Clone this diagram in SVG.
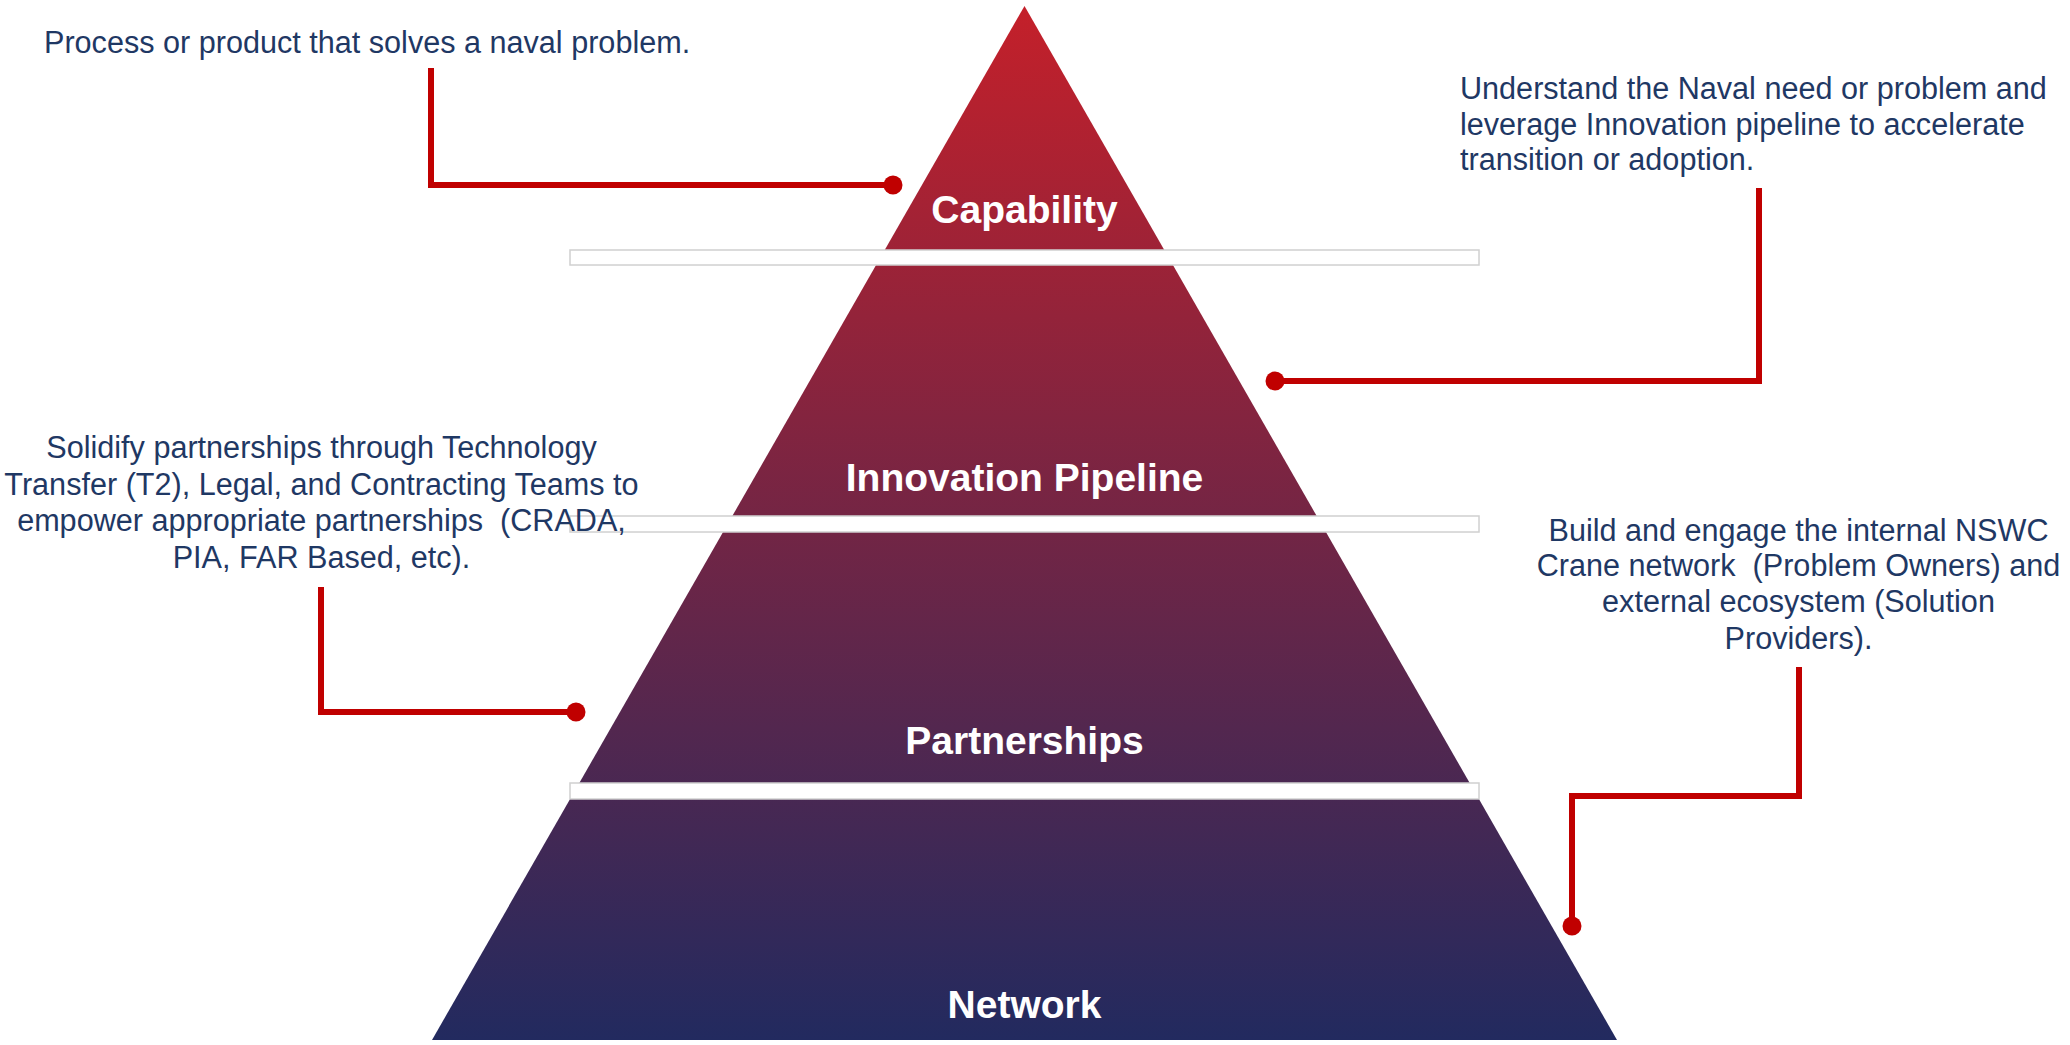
<svg xmlns="http://www.w3.org/2000/svg" width="2070" height="1045" viewBox="0 0 2070 1045">
  <defs>
    <linearGradient id="pyr" gradientUnits="userSpaceOnUse" x1="0" y1="6" x2="0" y2="1040">
      <stop offset="0" stop-color="#c4202a"/>
      <stop offset="1" stop-color="#222a5f"/>
    </linearGradient>
    <style>
      .tier { fill: url(#pyr); }
      .band { fill: #ffffff; stroke: #d0d0d0; stroke-width: 1.5; }
      .lbl { fill: #ffffff; font-family: "Liberation Sans", Arial, sans-serif; font-weight: bold; font-size: 39px; text-anchor: middle; }
      .note { fill: #1f3864; font-family: "Liberation Sans", Arial, sans-serif; font-size: 30.6px; }
      .mid { text-anchor: middle; }
      .conn { fill: none; stroke: #c00000; stroke-width: 6; }
      .dot { fill: #c00000; }
    </style>
  </defs>
  <rect width="2070" height="1045" fill="#ffffff"/>

  <g id="tier-capability">
    <polygon class="tier" points="1024.5,6 1164.3,250 884.7,250"/>
    <text class="lbl" x="1024.5" y="223">Capability</text>
  </g>
  <g id="tier-innovation-pipeline">
    <polygon class="tier" points="876.1,265 1172.9,265 1316.7,516 732.3,516"/>
    <text class="lbl" x="1024.5" y="491">Innovation Pipeline</text>
  </g>
  <g id="tier-partnerships">
    <polygon class="tier" points="723.1,532 1325.9,532 1469.7,783 579.3,783"/>
    <text class="lbl" x="1024.5" y="754">Partnerships</text>
  </g>
  <g id="tier-network">
    <polygon class="tier" points="570.1,799 1478.9,799 1617,1040 432,1040"/>
    <text class="lbl" x="1024.5" y="1018">Network</text>
  </g>

  <g id="bands">
    <rect class="band" x="570" y="250" width="909" height="15"/>
    <rect class="band" x="570" y="516" width="909" height="16"/>
    <rect class="band" x="570" y="783" width="909" height="16"/>
  </g>

  <g id="note-capability">
    <text class="note" x="44" y="53">Process or product that solves a naval problem.</text>
  </g>
  <g id="note-innovation">
    <text class="note" x="1460" y="99">Understand the Naval need or problem and</text>
    <text class="note" x="1460" y="135">leverage Innovation pipeline to accelerate</text>
    <text class="note" x="1460" y="170">transition or adoption.</text>
  </g>
  <g id="note-partnerships">
    <text class="note mid" x="321.5" y="458">Solidify partnerships through Technology</text>
    <text class="note mid" x="321.5" y="495">Transfer (T2), Legal, and Contracting Teams to</text>
    <text class="note mid" x="321.5" y="531" xml:space="preserve">empower appropriate partnerships  (CRADA,</text>
    <text class="note mid" x="321.5" y="568">PIA, FAR Based, etc).</text>
  </g>
  <g id="note-network">
    <text class="note mid" x="1798.5" y="541">Build and engage the internal NSWC</text>
    <text class="note mid" x="1798.5" y="576" xml:space="preserve">Crane network  (Problem Owners) and</text>
    <text class="note mid" x="1798.5" y="612">external ecosystem (Solution</text>
    <text class="note mid" x="1798.5" y="649">Providers).</text>
  </g>

  <g id="connectors">
    <path class="conn" d="M431,68 V185 H893"/>
    <circle class="dot" cx="893" cy="185" r="9.5"/>
    <path class="conn" d="M1759,188 V381 H1275"/>
    <circle class="dot" cx="1275" cy="381" r="9.5"/>
    <path class="conn" d="M321,587 V712 H576"/>
    <circle class="dot" cx="576" cy="712" r="9.5"/>
    <path class="conn" d="M1799,667 V796 H1572 V926"/>
    <circle class="dot" cx="1572" cy="926" r="9.5"/>
  </g>
</svg>
